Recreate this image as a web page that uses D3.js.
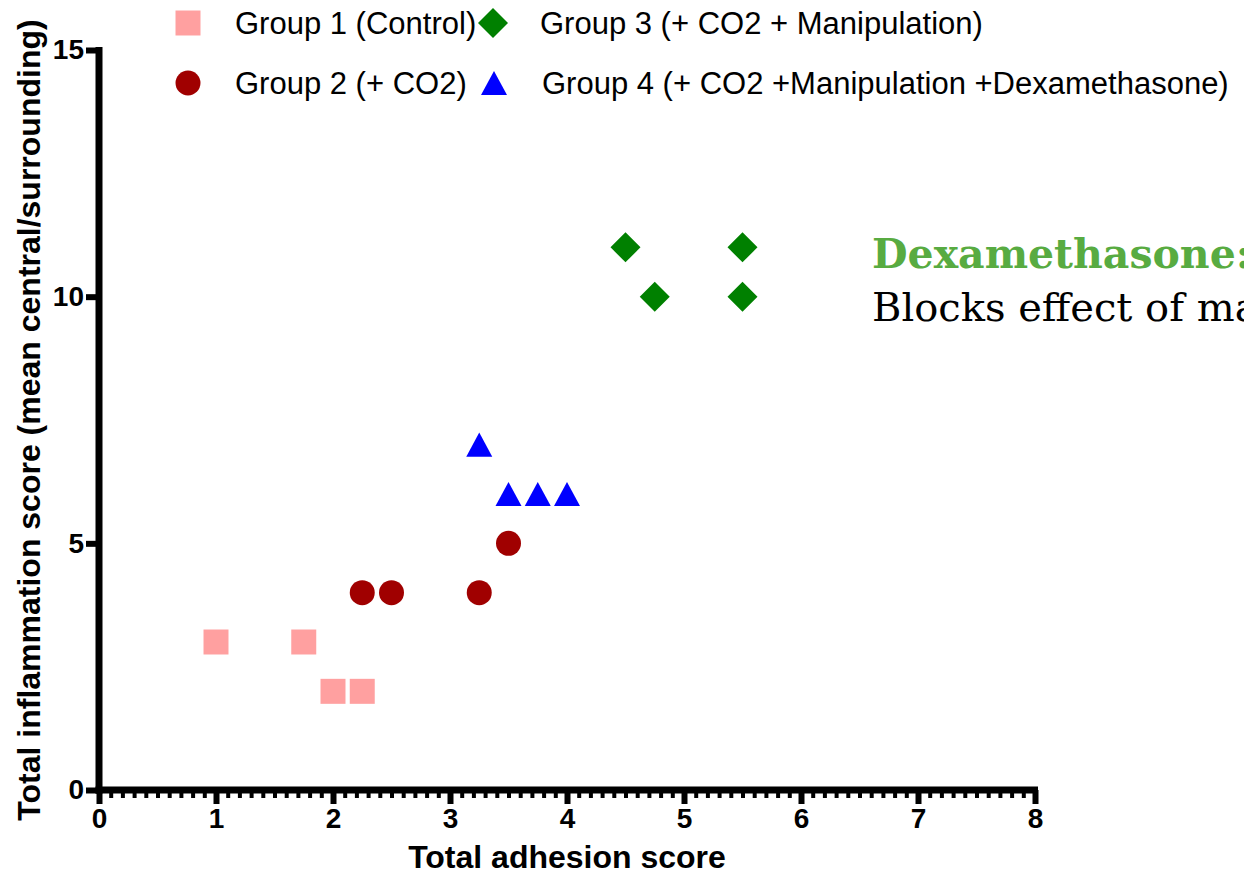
<!DOCTYPE html>
<html>
<head>
<meta charset="utf-8">
<script src="https://cdn.jsdelivr.net/npm/d3@7"></script>
<style>
  html, body { margin: 0; padding: 0; background: #fff; overflow: hidden; }
  svg { display: block; }
</style>
</head>
<body>
<svg id="chart" width="1244" height="874"></svg>
<script>
// ---------------- data ----------------
const groupNames = [
  "Group 1 (Control)",
  "Group 2 (+ CO2)",
  "Group 3 (+ CO2 + Manipulation)",
  "Group 4 (+ CO2 +Manipulation +Dexamethasone)"
];
const group1X = [1, 1.75, 2, 2.25];
const group1Y = [3, 3, 2, 2];
const group2X = [2.25, 2.5, 3.25, 3.5];
const group2Y = [4, 4, 4, 5];
const group3X = [4.5, 4.75, 5.5, 5.5];
const group3Y = [11, 10, 11, 10];
const group4X = [3.25, 3.5, 3.75, 4];
const group4Y = [7, 6, 6, 6];
const xTicks = [0, 1, 2, 3, 4, 5, 6, 7, 8];
const yTicks = [0, 5, 10, 15];
const xTitle = "Total adhesion score";
const yTitle = "Total inflammation score (mean central/surrounding)";
const noteTitle = "Dexamethasone:";
const noteBody = "Blocks effect of manipulation";

// ---------------- setup ----------------
const svg = d3.select("#chart");
const x = d3.scaleLinear().domain([0, 8]).range([99, 1035]);
const y = d3.scaleLinear().domain([0, 15]).range([790, 50]);

const colors = ["#ffa0a0", "#a00000", "#008000", "#0000ff"];

// custom symbol shapes (centred on their bounding box)
const squareSym = { draw(ctx, size) { const s = Math.sqrt(size) / 2; ctx.moveTo(-s, -s); ctx.lineTo(s, -s); ctx.lineTo(s, s); ctx.lineTo(-s, s); ctx.closePath(); } };
const diamondSym = { draw(ctx, size) { const s = Math.sqrt(size) / 2; ctx.moveTo(0, -s); ctx.lineTo(s, 0); ctx.lineTo(0, s); ctx.lineTo(-s, 0); ctx.closePath(); } };
const triangleSym = { draw(ctx, size) { const w = Math.sqrt(size) / 2, h = w * 0.93; ctx.moveTo(0, -h); ctx.lineTo(w, h); ctx.lineTo(-w, h); ctx.closePath(); } };
const symbolTypes = [squareSym, d3.symbolCircle, diamondSym, triangleSym];
const symbolSizes = [625, 490, 900, 676];

// ---------------- axes ----------------
// x minor ticks
const xMinor = d3.range(0, 80).map(i => i / 10).filter(v => Math.abs(v - Math.round(v)) > 1e-6);
const gxMinor = svg.append("g").attr("transform", `translate(0,${y(0)})`)
  .call(d3.axisBottom(x).tickValues(xMinor).tickSize(8).tickSizeOuter(0).tickFormat(""));
gxMinor.select(".domain").remove();
gxMinor.selectAll(".tick line").attr("stroke", "#000").attr("stroke-width", 4);

const gx = svg.append("g").attr("transform", `translate(0,${y(0)})`)
  .call(d3.axisBottom(x).tickValues(xTicks).tickSize(14).tickSizeOuter(0).tickPadding(4).tickFormat(d3.format("d")));
gx.select(".domain").attr("stroke", "#000").attr("stroke-width", 7).attr("d", `M${x(0) - 3.5},0H${x(8) + 3}`);
gx.selectAll(".tick line").attr("stroke", "#000").attr("stroke-width", 6);
gx.selectAll(".tick text").attr("fill", "#000")
  .style("font-family", "'Liberation Sans', Arial, sans-serif").style("font-weight", "bold").style("font-size", "28px");

const gy = svg.append("g").attr("transform", `translate(${x(0)},0)`)
  .call(d3.axisLeft(y).tickValues(yTicks).tickSize(13).tickSizeOuter(0).tickPadding(2).tickFormat(d3.format("d")));
gy.select(".domain").attr("stroke", "#000").attr("stroke-width", 7).attr("d", `M0,${y(15) - 3}V${y(0) + 3.5}`);
gy.selectAll(".tick line").attr("stroke", "#000").attr("stroke-width", 6);
gy.selectAll(".tick text").attr("fill", "#000")
  .style("font-family", "'Liberation Sans', Arial, sans-serif").style("font-weight", "bold").style("font-size", "28px");

// axis titles
svg.append("text")
  .attr("x", (x(0) + x(8)) / 2).attr("y", 868)
  .attr("text-anchor", "middle")
  .style("font-family", "'Liberation Sans', Arial, sans-serif").style("font-weight", "bold").style("font-size", "32px")
  .text(xTitle);
svg.append("text")
  .attr("transform", `translate(40,${(y(0) + y(15)) / 2}) rotate(-90)`)
  .attr("text-anchor", "middle")
  .style("font-family", "'Liberation Sans', Arial, sans-serif").style("font-weight", "bold").style("font-size", "32px")
  .text(yTitle);

// ---------------- points ----------------
const series = [
  { xs: group1X, ys: group1Y },
  { xs: group2X, ys: group2Y },
  { xs: group3X, ys: group3Y },
  { xs: group4X, ys: group4Y }
];
series.forEach((s, i) => {
  const pts = s.xs.map((v, j) => ({ x: v, y: s.ys[j] }));
  svg.append("g").selectAll("path").data(pts).join("path")
    .attr("transform", d => `translate(${x(d.x)},${y(d.y)})`)
    .attr("d", d3.symbol().type(symbolTypes[i]).size(symbolSizes[i]))
    .attr("fill", colors[i]);
});

// ---------------- legend ----------------
const legendPos = [
  { sx: 188, sy: 23, tx: 235 },
  { sx: 188, sy: 83, tx: 235 },
  { sx: 493, sy: 23, tx: 540 },
  { sx: 494, sy: 83, tx: 542 }
];
const legendSizes = [625, 490, 900, 676];
groupNames.forEach((name, i) => {
  const p = legendPos[i];
  svg.append("path")
    .attr("transform", `translate(${p.sx},${p.sy})`)
    .attr("d", d3.symbol().type(symbolTypes[i]).size(legendSizes[i]))
    .attr("fill", colors[i]);
  svg.append("text")
    .attr("x", p.tx).attr("y", p.sy + 11)
    .style("font-family", "'Liberation Sans', Arial, sans-serif").style("font-size", "31px")
    .attr("fill", "#000")
    .text(name);
});

// ---------------- annotation ----------------
svg.append("text")
  .attr("x", 872).attr("y", 268)
  .style("font-family", "'DejaVu Serif', serif").style("font-weight", "bold").style("font-size", "41px")
  .attr("fill", "#58ab41")
  .text(noteTitle);
svg.append("text")
  .attr("x", 872).attr("y", 321)
  .style("font-family", "'DejaVu Serif', serif").style("font-size", "40px")
  .attr("fill", "#000")
  .text(noteBody);
</script>
</body>
</html>
